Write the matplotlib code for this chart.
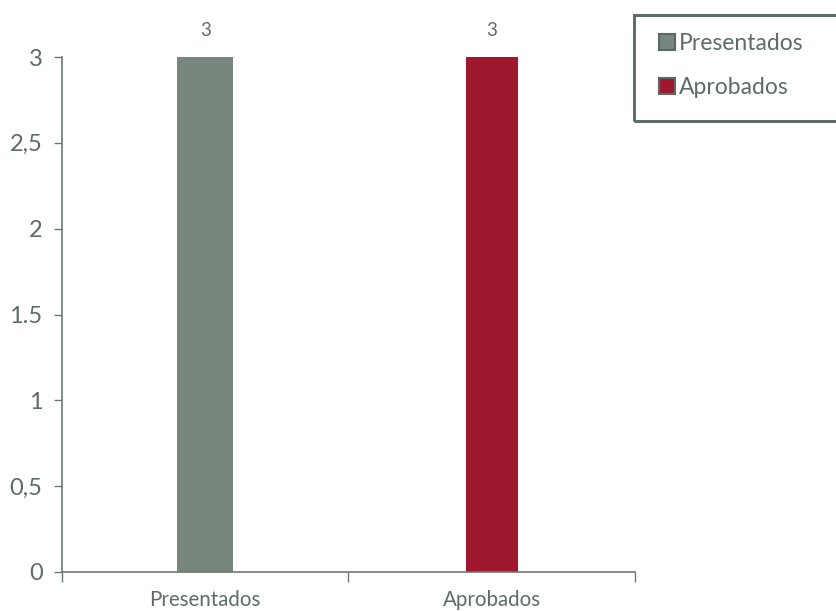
import matplotlib
matplotlib.use("Agg")
import matplotlib.pyplot as plt
from matplotlib.patches import Rectangle, Patch

plt.rcParams['font.family'] = ['Lato', 'DejaVu Sans']

categories = ["Presentados", "Aprobados"]
values = [3, 3]
value_labels = ["3", "3"]
colors = ["#78877e", "#a0182e"]
ytick_vals = [0, 0.5, 1, 1.5, 2, 2.5, 3]
ytick_labels = ["0", "0,5", "1", "1.5", "2", "2,5", "3"]

txt = "#5c6d64"
axc = "#6b7b72"

fig = plt.figure(figsize=(8.37, 6.11), dpi=100)
ax = fig.add_axes([62/837, 1-572/611, (635-62)/837, (572-57)/611])

x = list(range(len(categories)))
bars = ax.bar(x, values, width=[0.196, 0.18], color=colors, zorder=2)

for xi, v, lab in zip(x, values, value_labels):
    ax.annotate(lab, (xi, v), xytext=(0, 13), textcoords="offset points",
                ha="center", va="bottom", fontsize=13.5, color=txt, annotation_clip=False)

ax.set_xlim(-0.5, len(categories) - 0.5)
ax.set_ylim(0, 3)
ax.set_yticks(ytick_vals)
ax.set_yticklabels(ytick_labels, fontsize=17, color=txt)
ax.set_xticks(x)
ax.set_xticklabels(categories, fontsize=14.8, color=txt)
ax.tick_params(axis='x', length=0, pad=13)
ax.set_xticks([i - 0.5 for i in range(len(categories) + 1)], minor=True)
ax.tick_params(axis='x', which='minor', length=7, color=axc, width=1)
ax.tick_params(axis='y', length=6, color=axc, width=1, pad=8)

for s in ['top', 'right']:
    ax.spines[s].set_visible(False)
for s in ['left', 'bottom']:
    ax.spines[s].set_color(axc)
    ax.spines[s].set_linewidth(1.2)

# legend box
fig.patches.append(Rectangle((634/837, 1-121/611), 210/837, (121-15)/611,
                             transform=fig.transFigure, fill=False,
                             edgecolor="#5f6f66", linewidth=2.2, clip_on=False))
handles = [Patch(facecolor=c, edgecolor="#5a6a61", linewidth=1.5) for c in colors]
leg = fig.legend(handles, categories, loc="upper left",
                 bbox_to_anchor=(659/837, 1-33/611), frameon=False,
                 fontsize=16.5, handlelength=0.7, handleheight=0.7,
                 handletextpad=0.15, labelspacing=1.0, borderpad=0, borderaxespad=0)
for t in leg.get_texts():
    t.set_color(txt)

fig.savefig("out.png", dpi=100)
